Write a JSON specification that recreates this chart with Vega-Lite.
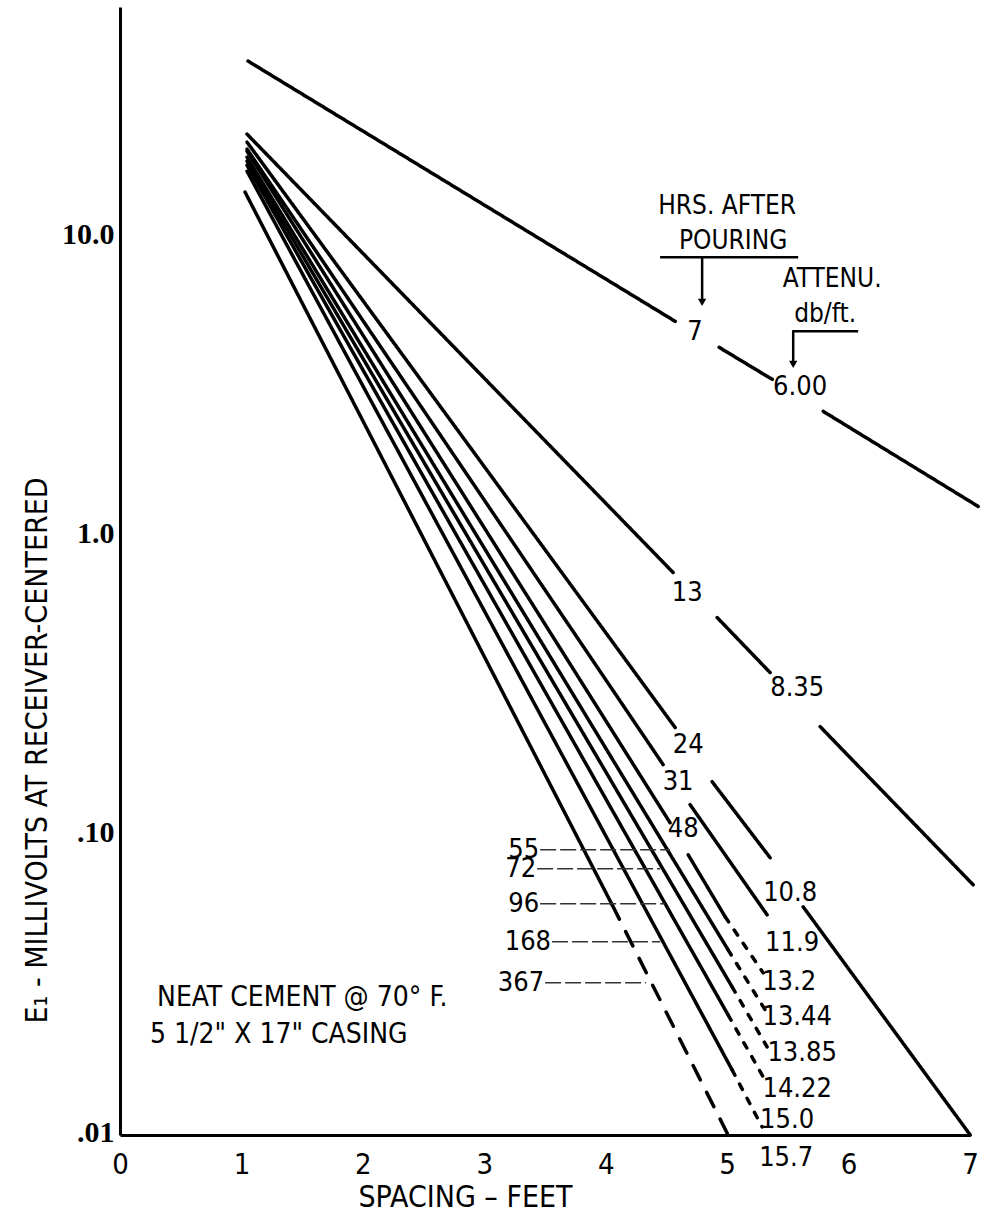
{
  "$schema": "https://vega.github.io/schema/vega-lite/v6.json",
  "width": 850,
  "height": 1128,
  "autosize": {"type": "none"},
  "padding": {"left": 120, "top": 7, "right": 13, "bottom": 85},
  "background": "white",
  "config": {"view": {"stroke": null}},
  "datasets": {
    "lines": [
      {"seg": "7a", "x": 1.054, "y": 38.79, "style": "solid"},
      {"seg": "7a", "x": 4.572, "y": 5.236, "style": "solid"},
      {"seg": "7b", "x": 4.934, "y": 4.287, "style": "solid"},
      {"seg": "7b", "x": 5.371, "y": 3.350, "style": "solid"},
      {"seg": "7c", "x": 5.791, "y": 2.619, "style": "solid"},
      {"seg": "7c", "x": 7.068, "y": 1.260, "style": "solid"},
      {"seg": "13a", "x": 1.046, "y": 22.11, "style": "solid"},
      {"seg": "13a", "x": 4.555, "y": 0.758, "style": "solid"},
      {"seg": "13b", "x": 4.918, "y": 0.5359, "style": "solid"},
      {"seg": "13b", "x": 5.354, "y": 0.3509, "style": "solid"},
      {"seg": "13c", "x": 5.766, "y": 0.2315, "style": "solid"},
      {"seg": "13c", "x": 7.026, "y": 0.06857, "style": "solid"},
      {"seg": "24a", "x": 1.046, "y": 20.78, "style": "solid"},
      {"seg": "24a", "x": 4.572, "y": 0.2298, "style": "solid"},
      {"seg": "24b", "x": 4.876, "y": 0.1516, "style": "solid"},
      {"seg": "24b", "x": 5.354, "y": 0.08443, "style": "solid"},
      {"seg": "24c", "x": 5.626, "y": 0.05788, "style": "solid"},
      {"seg": "24c", "x": 7.002, "y": 0.01, "style": "solid"},
      {"seg": "31a", "x": 1.046, "y": 19.70, "style": "solid"},
      {"seg": "31a", "x": 4.473, "y": 0.1728, "style": "solid"},
      {"seg": "31b", "x": 4.695, "y": 0.1270, "style": "solid"},
      {"seg": "31b", "x": 5.329, "y": 0.05443, "style": "solid"},
      {"seg": "48a", "x": 1.046, "y": 19.40, "style": "solid"},
      {"seg": "48a", "x": 4.530, "y": 0.1105, "style": "solid"},
      {"seg": "48b", "x": 4.679, "y": 0.0864, "style": "solid"},
      {"seg": "48b", "x": 4.984, "y": 0.05359, "style": "solid"},
      {"seg": "48c", "x": 4.984, "y": 0.05359, "style": "dash"},
      {"seg": "48c", "x": 5.297, "y": 0.03481, "style": "dash"},
      {"seg": "55a", "x": 1.046, "y": 18.52, "style": "solid"},
      {"seg": "55a", "x": 5.008, "y": 0.04156, "style": "solid"},
      {"seg": "55b", "x": 5.008, "y": 0.04156, "style": "dash"},
      {"seg": "55b", "x": 5.313, "y": 0.02618, "style": "dash"},
      {"seg": "72a", "x": 1.046, "y": 17.96, "style": "solid"},
      {"seg": "72a", "x": 5.041, "y": 0.03126, "style": "solid"},
      {"seg": "72b", "x": 5.041, "y": 0.03126, "style": "dash"},
      {"seg": "72b", "x": 5.329, "y": 0.01969, "style": "dash"},
      {"seg": "96a", "x": 1.046, "y": 17.41, "style": "solid"},
      {"seg": "96a", "x": 5.008, "y": 0.02519, "style": "solid"},
      {"seg": "96b", "x": 5.008, "y": 0.02519, "style": "dash"},
      {"seg": "96b", "x": 5.297, "y": 0.01563, "style": "dash"},
      {"seg": "168a", "x": 1.046, "y": 16.62, "style": "solid"},
      {"seg": "168a", "x": 5.041, "y": 0.01650, "style": "solid"},
      {"seg": "168b", "x": 5.041, "y": 0.01650, "style": "dash"},
      {"seg": "168b", "x": 5.288, "y": 0.01064, "style": "dash"},
      {"seg": "367a", "x": 1.030, "y": 14.15, "style": "solid"},
      {"seg": "367a", "x": 4.053, "y": 0.05877, "style": "solid"},
      {"seg": "367b", "x": 4.053, "y": 0.05877, "style": "longdash"},
      {"seg": "367b", "x": 5.008, "y": 0.01, "style": "longdash"}
    ],
    "leaders": [
      {"t": "55", "x": 3.460, "x2": 4.530, "y": 0.08978, "y2": 0.08978},
      {"t": "72", "x": 3.435, "x2": 4.448, "y": 0.07757, "y2": 0.07757},
      {"t": "96", "x": 3.460, "x2": 4.489, "y": 0.05924, "y2": 0.05924},
      {"t": "168", "x": 3.558, "x2": 4.448, "y": 0.04420, "y2": 0.04420},
      {"t": "367", "x": 3.501, "x2": 4.333, "y": 0.03224, "y2": 0.03224}
    ],
    "labels": [
      {"t": "7", "x": 4.736, "y": 4.812},
      {"t": "6.00", "x": 5.601, "y": 3.150},
      {"t": "13", "x": 4.671, "y": 0.6497},
      {"t": "8.35", "x": 5.577, "y": 0.3126},
      {"t": "24", "x": 4.679, "y": 0.2015},
      {"t": "31", "x": 4.596, "y": 0.1516},
      {"t": "48", "x": 4.638, "y": 0.1055},
      {"t": "10.8", "x": 5.519, "y": 0.06449},
      {"t": "11.9", "x": 5.535, "y": 0.04385},
      {"t": "13.2", "x": 5.511, "y": 0.03249},
      {"t": "13.44", "x": 5.577, "y": 0.02481},
      {"t": "13.85", "x": 5.618, "y": 0.01880},
      {"t": "14.22", "x": 5.577, "y": 0.01430},
      {"t": "15.0", "x": 5.494, "y": 0.01125},
      {"t": "15.7", "x": 5.486, "y": 0.008376}
    ],
    "heads_text": [
      {"t": "HRS. AFTER", "x": 5.0, "y": 12.70},
      {"t": "POURING", "x": 5.049, "y": 9.696},
      {"t": "ATTENU.", "x": 5.865, "y": 7.236},
      {"t": "db/ft.", "x": 5.807, "y": 5.527}
    ],
    "notes": [
      {"t": "NEAT CEMENT @ 70° F.", "x": 0.305, "y": 0.02872},
      {"t": "5 1/2\" X 17\" CASING", "x": 0.247, "y": 0.02161}
    ],
    "annot": [
      {"x": 4.448, "x2": 5.585, "y": 8.573, "y2": 8.573},
      {"x": 4.794, "x2": 4.794, "y": 8.573, "y2": 6.062},
      {"x": 5.535, "x2": 6.079, "y": 4.850, "y2": 4.850},
      {"x": 5.544, "x2": 5.544, "y": 4.850, "y2": 3.761}
    ],
    "heads": [
      {"x": 4.794, "y": 6.062},
      {"x": 5.544, "y": 3.761}
    ],
    "xticks": [{"x": 1}, {"x": 2}, {"x": 3}, {"x": 4}, {"x": 5}, {"x": 6}, {"x": 7}],
    "yticks": [{"y": 0.1}, {"y": 1}, {"y": 10}]
  },
  "encoding": {
    "x": {
      "field": "x", "type": "quantitative",
      "scale": {"domain": [0, 7], "nice": false, "zero": false},
      "axis": {
        "values": [0, 1, 2, 3, 4, 5, 6, 7], "grid": false, "ticks": false, "tickSize": 0,
        "domainColor": "black", "domainWidth": 3,
        "labelFont": "Liberation Sans Narrow, DejaVu Sans Condensed, sans-serif",
        "labelFontSize": 29, "labelColor": "black", "labelBaseline": "middle", "labelPadding": 29,
        "labelFlush": false, "labelOverlap": false,
        "title": "SPACING – FEET",
        "titleFont": "Liberation Sans Narrow, DejaVu Sans Condensed, sans-serif",
        "titleFontSize": 30, "titleFontWeight": "normal", "titleColor": "black",
        "titleX": 345, "titleY": 62, "titleBaseline": "middle", "titleAlign": "center"
      }
    },
    "y": {
      "field": "y", "type": "quantitative",
      "scale": {"type": "log", "domain": [0.01, 58.8], "nice": false},
      "axis": {
        "values": [0.01, 0.1, 1, 10], "grid": false, "ticks": false, "tickSize": 0,
        "domainColor": "black", "domainWidth": 3,
        "labelExpr": "datum.value >= 5 ? '10.0' : datum.value >= 0.5 ? '1.0' : datum.value >= 0.05 ? '.10' : '.01'",
        "labelFont": "Liberation Serif, DejaVu Serif, serif", "labelFontWeight": "bold",
        "labelFontSize": 30, "labelColor": "black", "labelPadding": 6, "labelOffset": -3,
        "labelFlush": false, "labelOverlap": false,
        "title": "E₁ - MILLIVOLTS AT RECEIVER-CENTERED",
        "titleFont": "Liberation Sans Narrow, DejaVu Sans Condensed, sans-serif",
        "titleFontSize": 30, "titleFontWeight": "normal", "titleColor": "black",
        "titleX": -83, "titleY": 743, "titleBaseline": "middle", "titleAlign": "center", "titleAngle": 270
      }
    }
  },
  "layer": [
    {
      "data": {"name": "lines"},
      "mark": {"type": "line", "color": "black", "strokeWidth": 3.5, "strokeCap": "round"},
      "encoding": {
        "detail": {"field": "seg"},
        "strokeDash": {
          "field": "style", "type": "nominal", "legend": null,
          "scale": {"domain": ["solid", "dash", "longdash"], "range": [[1, 0], [6, 10], [16, 14]]}
        }
      }
    },
    {
      "data": {"name": "leaders"},
      "mark": {"type": "rule", "color": "#333", "strokeWidth": 1.5, "strokeDash": [16, 4]},
      "encoding": {"x2": {"field": "x2"}, "y2": {"field": "y2"}}
    },
    {
      "data": {"name": "leaders"},
      "mark": {"type": "text", "align": "right", "baseline": "middle", "dx": -1, "fontSize": 27,
               "font": "Liberation Sans Narrow, DejaVu Sans Condensed, sans-serif", "color": "black"},
      "encoding": {"text": {"field": "t"}}
    },
    {
      "data": {"name": "annot"},
      "mark": {"type": "rule", "color": "black", "strokeWidth": 2.5},
      "encoding": {"x2": {"field": "x2"}, "y2": {"field": "y2"}}
    },
    {
      "data": {"name": "heads"},
      "mark": {"type": "point", "shape": "triangle-down", "filled": true, "size": 70, "color": "black", "opacity": 1},
      "encoding": {}
    },
    {
      "data": {"name": "labels"},
      "mark": {"type": "text", "align": "center", "baseline": "middle", "fontSize": 27,
               "font": "Liberation Sans Narrow, DejaVu Sans Condensed, sans-serif", "color": "black"},
      "encoding": {"text": {"field": "t"}}
    },
    {
      "data": {"name": "heads_text"},
      "mark": {"type": "text", "align": "center", "baseline": "middle", "fontSize": 26,
               "font": "Liberation Sans Narrow, DejaVu Sans Condensed, sans-serif", "color": "black"},
      "encoding": {"text": {"field": "t"}}
    },
    {
      "data": {"name": "notes"},
      "mark": {"type": "text", "align": "left", "baseline": "middle", "fontSize": 28,
               "font": "Liberation Sans Narrow, DejaVu Sans Condensed, sans-serif", "color": "black"},
      "encoding": {"text": {"field": "t"}}
    },
    {
      "data": {"name": "xticks"},
      "mark": {"type": "tick", "orient": "vertical", "size": 16, "thickness": 2.5, "color": "black", "opacity": 1},
      "encoding": {"y": {"datum": 0.01}}
    },
    {
      "data": {"name": "yticks"},
      "mark": {"type": "tick", "orient": "horizontal", "size": 16, "thickness": 2.5, "color": "black", "opacity": 1},
      "encoding": {"x": {"datum": 0}}
    }
  ]
}
